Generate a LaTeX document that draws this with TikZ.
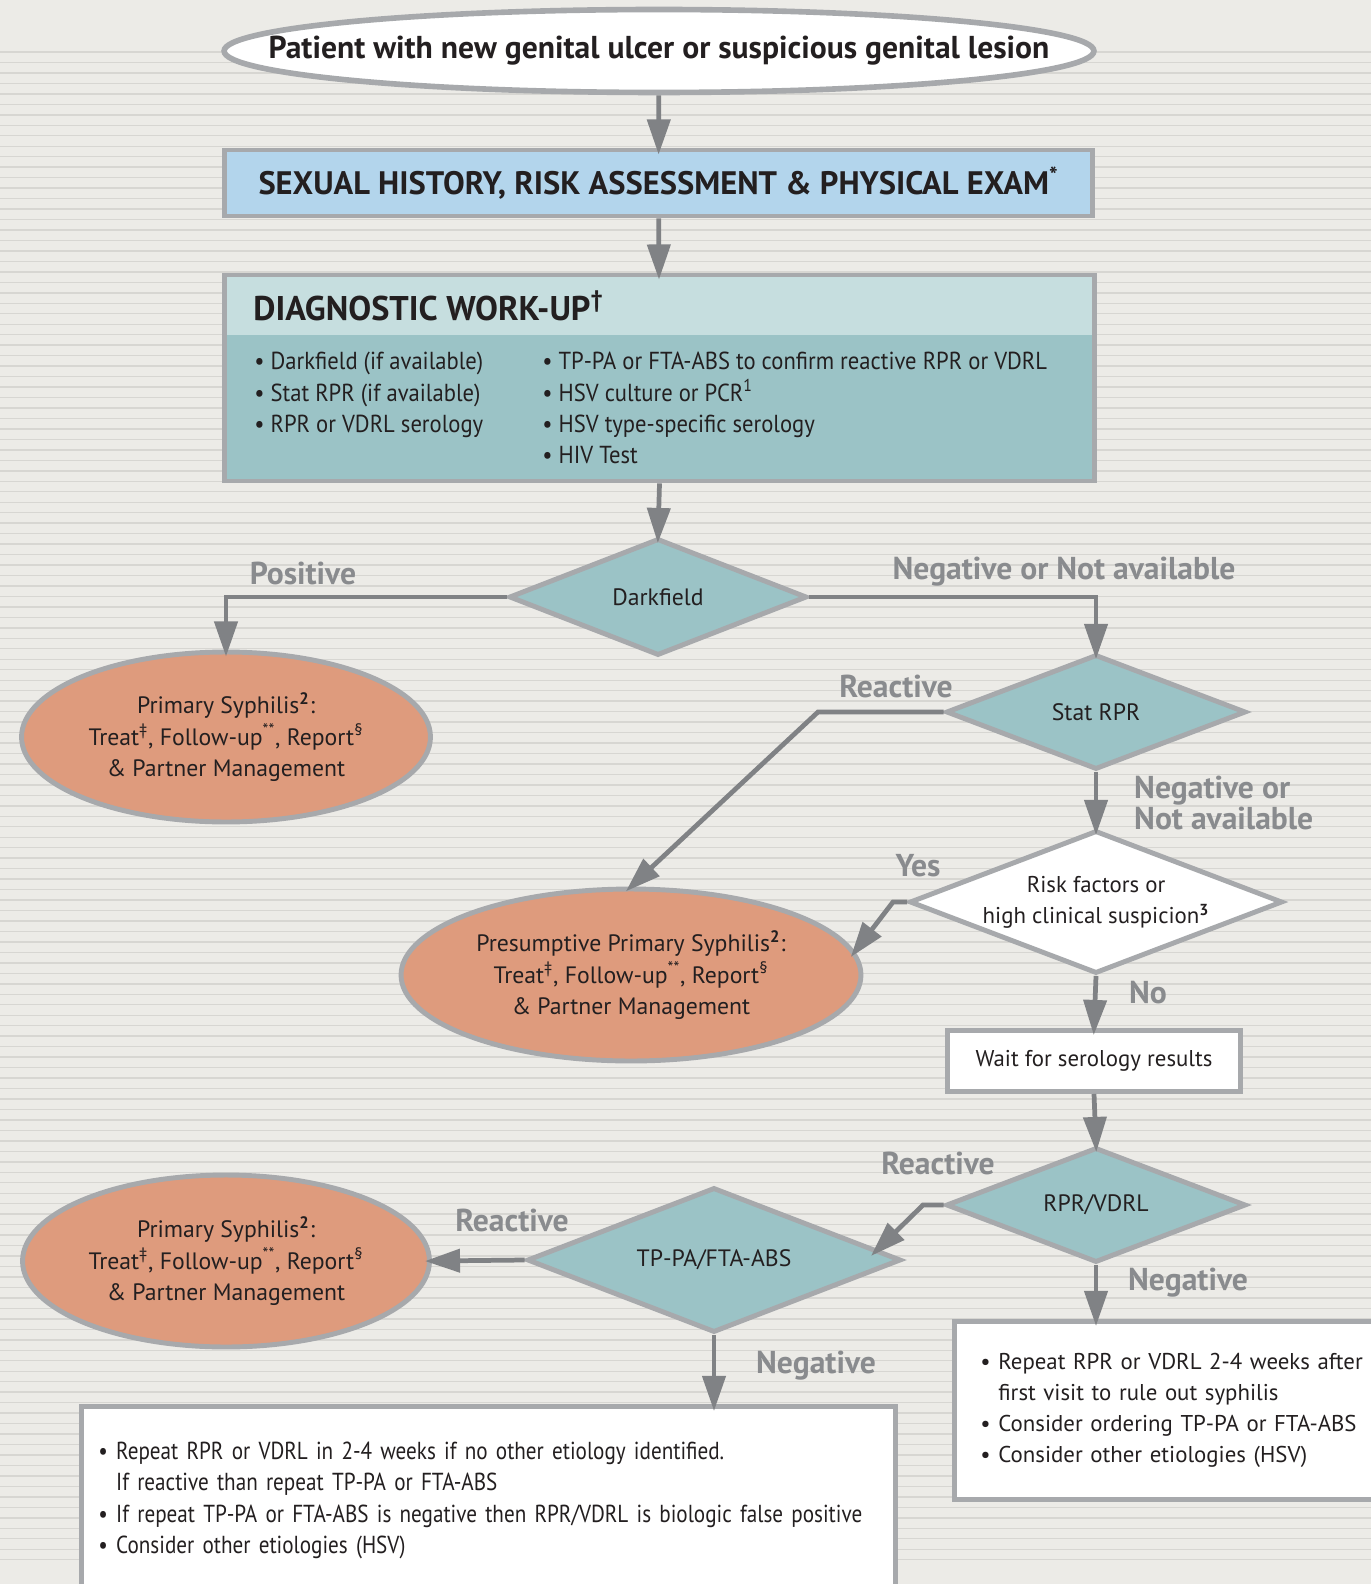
\documentclass[tikz,border=0pt]{standalone}
\usepackage{fontspec}
\setmainfont{PT Sans}
\newfontfamily\narrowsans[FakeStretch=0.92]{PT Sans}
\newfontfamily\narrowersans[FakeStretch=0.86]{PT Sans}
\usepackage{xcolor}
\usepackage{tikz}
\usetikzlibrary{arrows.meta,positioning,shapes.geometric}
\definecolor{bgpaper}{HTML}{ECEBE7}
\definecolor{bgline}{HTML}{D7D6D2}
\definecolor{edgegrey}{HTML}{A7A9AC}
\definecolor{arrowgrey}{HTML}{808285}
\definecolor{labelgrey}{HTML}{898B8E}
\definecolor{inkdark}{HTML}{231F20}
\definecolor{examblue}{HTML}{B3D5EC}
\definecolor{tealhead}{HTML}{C6DEDF}
\definecolor{tealbody}{HTML}{9BC3C6}
\definecolor{salmon}{HTML}{DE9B7D}
\newcommand{\bodyfont}{\fontsize{13.5}{17.8}\selectfont}
\newcommand{\listfont}{\narrowsans\fontsize{14}{17.8}\selectfont}
\newcommand{\supr}[1]{\textsuperscript{#1}}

\begin{document}
\begin{tikzpicture}[x=0.02cm, y=-0.02cm,
      box/.style={draw=edgegrey, line width=2.8pt, text=inkdark, align=center},
      oval/.style={ellipse, draw=edgegrey, line width=2.8pt, fill=salmon,
                   text=inkdark, align=center, inner sep=0pt, font=\bodyfont},
      dec/.style={diamond, aspect=2.6, draw=edgegrey, line width=2.8pt, fill=tealbody,
                  text=inkdark, align=center, inner sep=0pt, font=\bodyfont},
      lbl/.style={text=labelgrey, font=\fontsize{18}{20}\selectfont\bfseries, align=left},
      lst/.style={text=inkdark, font=\listfont, align=left, inner sep=0pt},
      arr/.style={-{Triangle[width=13pt,length=20pt]}, line width=2.7pt,
                  color=arrowgrey, shorten >=-4pt}
  ]
    \clip (0,0) rectangle (1371,1584);
    \fill[bgpaper] (0,0) rectangle (1371,1584);
    \foreach \k in {0,...,144}
      \draw[bgline, line width=0.8pt] (0,52+10.47*\k) -- (1371,52+10.47*\k);

    \node[box, ellipse, fill=white, inner sep=0pt, minimum width=17.4cm, minimum height=1.66cm,
          line width=3.2pt, font=\fontsize{18}{20}\selectfont\bfseries] (start) at (659,51)
          {\makebox[0pt]{Patient with new genital ulcer or suspicious genital lesion}};
    \node[box, fill=examblue, minimum width=17.38cm, minimum height=1.32cm,
          font=\fontsize{18.5}{20}\selectfont\bfseries] (exam) at (658.5,183)
          {SEXUAL HISTORY, RISK ASSESSMENT \& PHYSICAL EXAM\supr{*}};
    \node[box, fill=tealbody, minimum width=17.42cm, minimum height=4.12cm,
          path picture={\fill[tealhead] (path picture bounding box.north west)
            rectangle ([yshift=-1.2cm]path picture bounding box.north east);}]
          (workup) at (659.5,378) {};
    \node[lst, anchor=west, font=\fontsize{19.5}{20}\selectfont\bfseries] (wuhead) at (253,306)
          {DIAGNOSTIC WORK-UP\supr{\textdagger}};
    \node[lst, anchor=north west] (wuleft) at (254,352)
          {\textbullet\ Darkfield (if available)\\
           \textbullet\ Stat RPR (if available)\\
           \textbullet\ RPR or VDRL serology};
    \node[lst, anchor=north west] (wuright) at (542,352)
          {\textbullet\ TP-PA or FTA-ABS to confirm reactive RPR or VDRL\\
           \textbullet\ HSV culture or PCR\supr{1}\\
           \textbullet\ HSV type-specific serology\\
           \textbullet\ HIV Test};

    \node[dec, minimum width=5.96cm, minimum height=2.34cm] (dark) at (658,597) {Darkfield};
    \node[oval, minimum width=8.18cm, minimum height=3.4cm] (ps1) at (226,737)
          {Primary Syphilis\supr{\textbf{2}}:\\
           Treat\supr{\textdaggerdbl}, Follow-up\supr{**}, Report\supr{\S}\\
           \& Partner Management};
    \node[dec, minimum width=6cm, minimum height=2.3cm] (stat) at (1096,712) {Stat RPR};
    \node[dec, fill=white, minimum width=7.46cm, minimum height=2.86cm,
          font=\fontsize{13}{17.8}\selectfont] (risk) at (1096,902)
          {Risk factors or\\high clinical suspicion\supr{\textbf{3}}};
    \node[oval, minimum width=9.2cm, minimum height=3.44cm] (pps) at (631,975)
          {Presumptive Primary Syphilis\supr{\textbf{2}}:\\
           Treat\supr{\textdaggerdbl}, Follow-up\supr{**}, Report\supr{\S}\\
           \& Partner Management};
    \node[box, fill=white, minimum width=5.86cm, minimum height=1.22cm,
          font=\fontsize{13}{17.8}\selectfont] (wait) at (1094,1061) {Wait for serology results};
    \node[dec, minimum width=6cm, minimum height=2.3cm] (rpr) at (1096,1205) {RPR/VDRL};
    \node[dec, minimum width=7.48cm, minimum height=2.9cm] (tppa) at (714,1260) {TP-PA/FTA-ABS};
    \node[oval, minimum width=8.14cm, minimum height=3.44cm] (ps2) at (226,1261)
          {Primary Syphilis\supr{\textbf{2}}:\\
           Treat\supr{\textdaggerdbl}, Follow-up\supr{**}, Report\supr{\S}\\
           \& Partner Management};
    \node[box, fill=white, anchor=north west, minimum width=9.4cm, minimum height=3.56cm,
          text width=8.36cm, inner xsep=0.52cm, align=left,
          font=\fontsize{13}{17.8}\selectfont]
          (negright) at (952,1319)
          {\textbullet\ Repeat RPR or VDRL 2-4 weeks after\\
           \hphantom{\textbullet\ }first visit to rule out syphilis\\
           \textbullet\ Consider ordering TP-PA or FTA-ABS\\
           \textbullet\ Consider other etiologies (HSV)};
    \node[box, fill=white, anchor=north west, minimum width=16.28cm, minimum height=3.76cm,
          text width=15.6cm, inner xsep=0.34cm, align=left,
          font=\narrowersans\fontsize{14}{17.8}\selectfont]
          (negleft) at (79,1404)
          {\mbox{\textbullet\ Repeat RPR or VDRL in 2-4 weeks if no other etiology identified.}\\
           \hphantom{\textbullet\ }If reactive than repeat TP-PA or FTA-ABS\\
           \mbox{\textbullet\ If repeat TP-PA or FTA-ABS is negative then RPR/VDRL is biologic false positive}\\
           \textbullet\ Consider other etiologies (HSV)};

    \node[lbl] (lpos) at (303,573) {Positive};
    \node[lbl] (lnegna) at (1064,572) {Negative or Not available};
    \node[lbl] (lreact1) at (896,686) {Reactive};
    \node[lbl, anchor=west] (lnegna2) at (1128,803) {Negative or\\[-2pt]Not available};
    \node[lbl] (lyes) at (918,866) {Yes};
    \node[lbl] (lno) at (1148,993) {No};
    \node[lbl] (lreact2) at (938,1163) {Reactive};
    \node[lbl] (lreact3) at (512,1220) {Reactive};
    \node[lbl] (lneg1) at (1188,1283) {Negative};
    \node[lbl] (lneg2) at (816,1366) {Negative};

    \coordinate (bendA) at (818,712);
    \coordinate (bendB) at (893,902);
    \coordinate (bendC) at (923,1205);
    \coordinate (tpin) at (876,1251);

    \draw[arr] (start) -- (exam);
    \draw[arr] (exam) -- (workup);
    \draw[arr] (workup.south) -- (dark.north);
    \draw[arr] (dark.west) -| (ps1.north);
    \draw[arr] (dark.east) -| (stat.north);
    \draw[arr] (stat.west) -- (bendA) -- (pps.north);
    \draw[arr] (stat.south) -- (risk.north);
    \draw[arr] (risk.west) -- (bendB) -- (pps.6);
    \draw[arr] (risk.south) -- (wait.north);
    \draw[arr] (wait.south) -- (rpr.north);
    \draw[arr] (rpr.west) -- (bendC) -- (tpin);
    \draw[arr] (rpr.south) -- (rpr.south |- negright.north);
    \draw[arr] (tppa.west) -- (ps2.east);
    \draw[arr] (tppa.south) -- (tppa.south |- negleft.north);
  \end{tikzpicture}
\end{document}
